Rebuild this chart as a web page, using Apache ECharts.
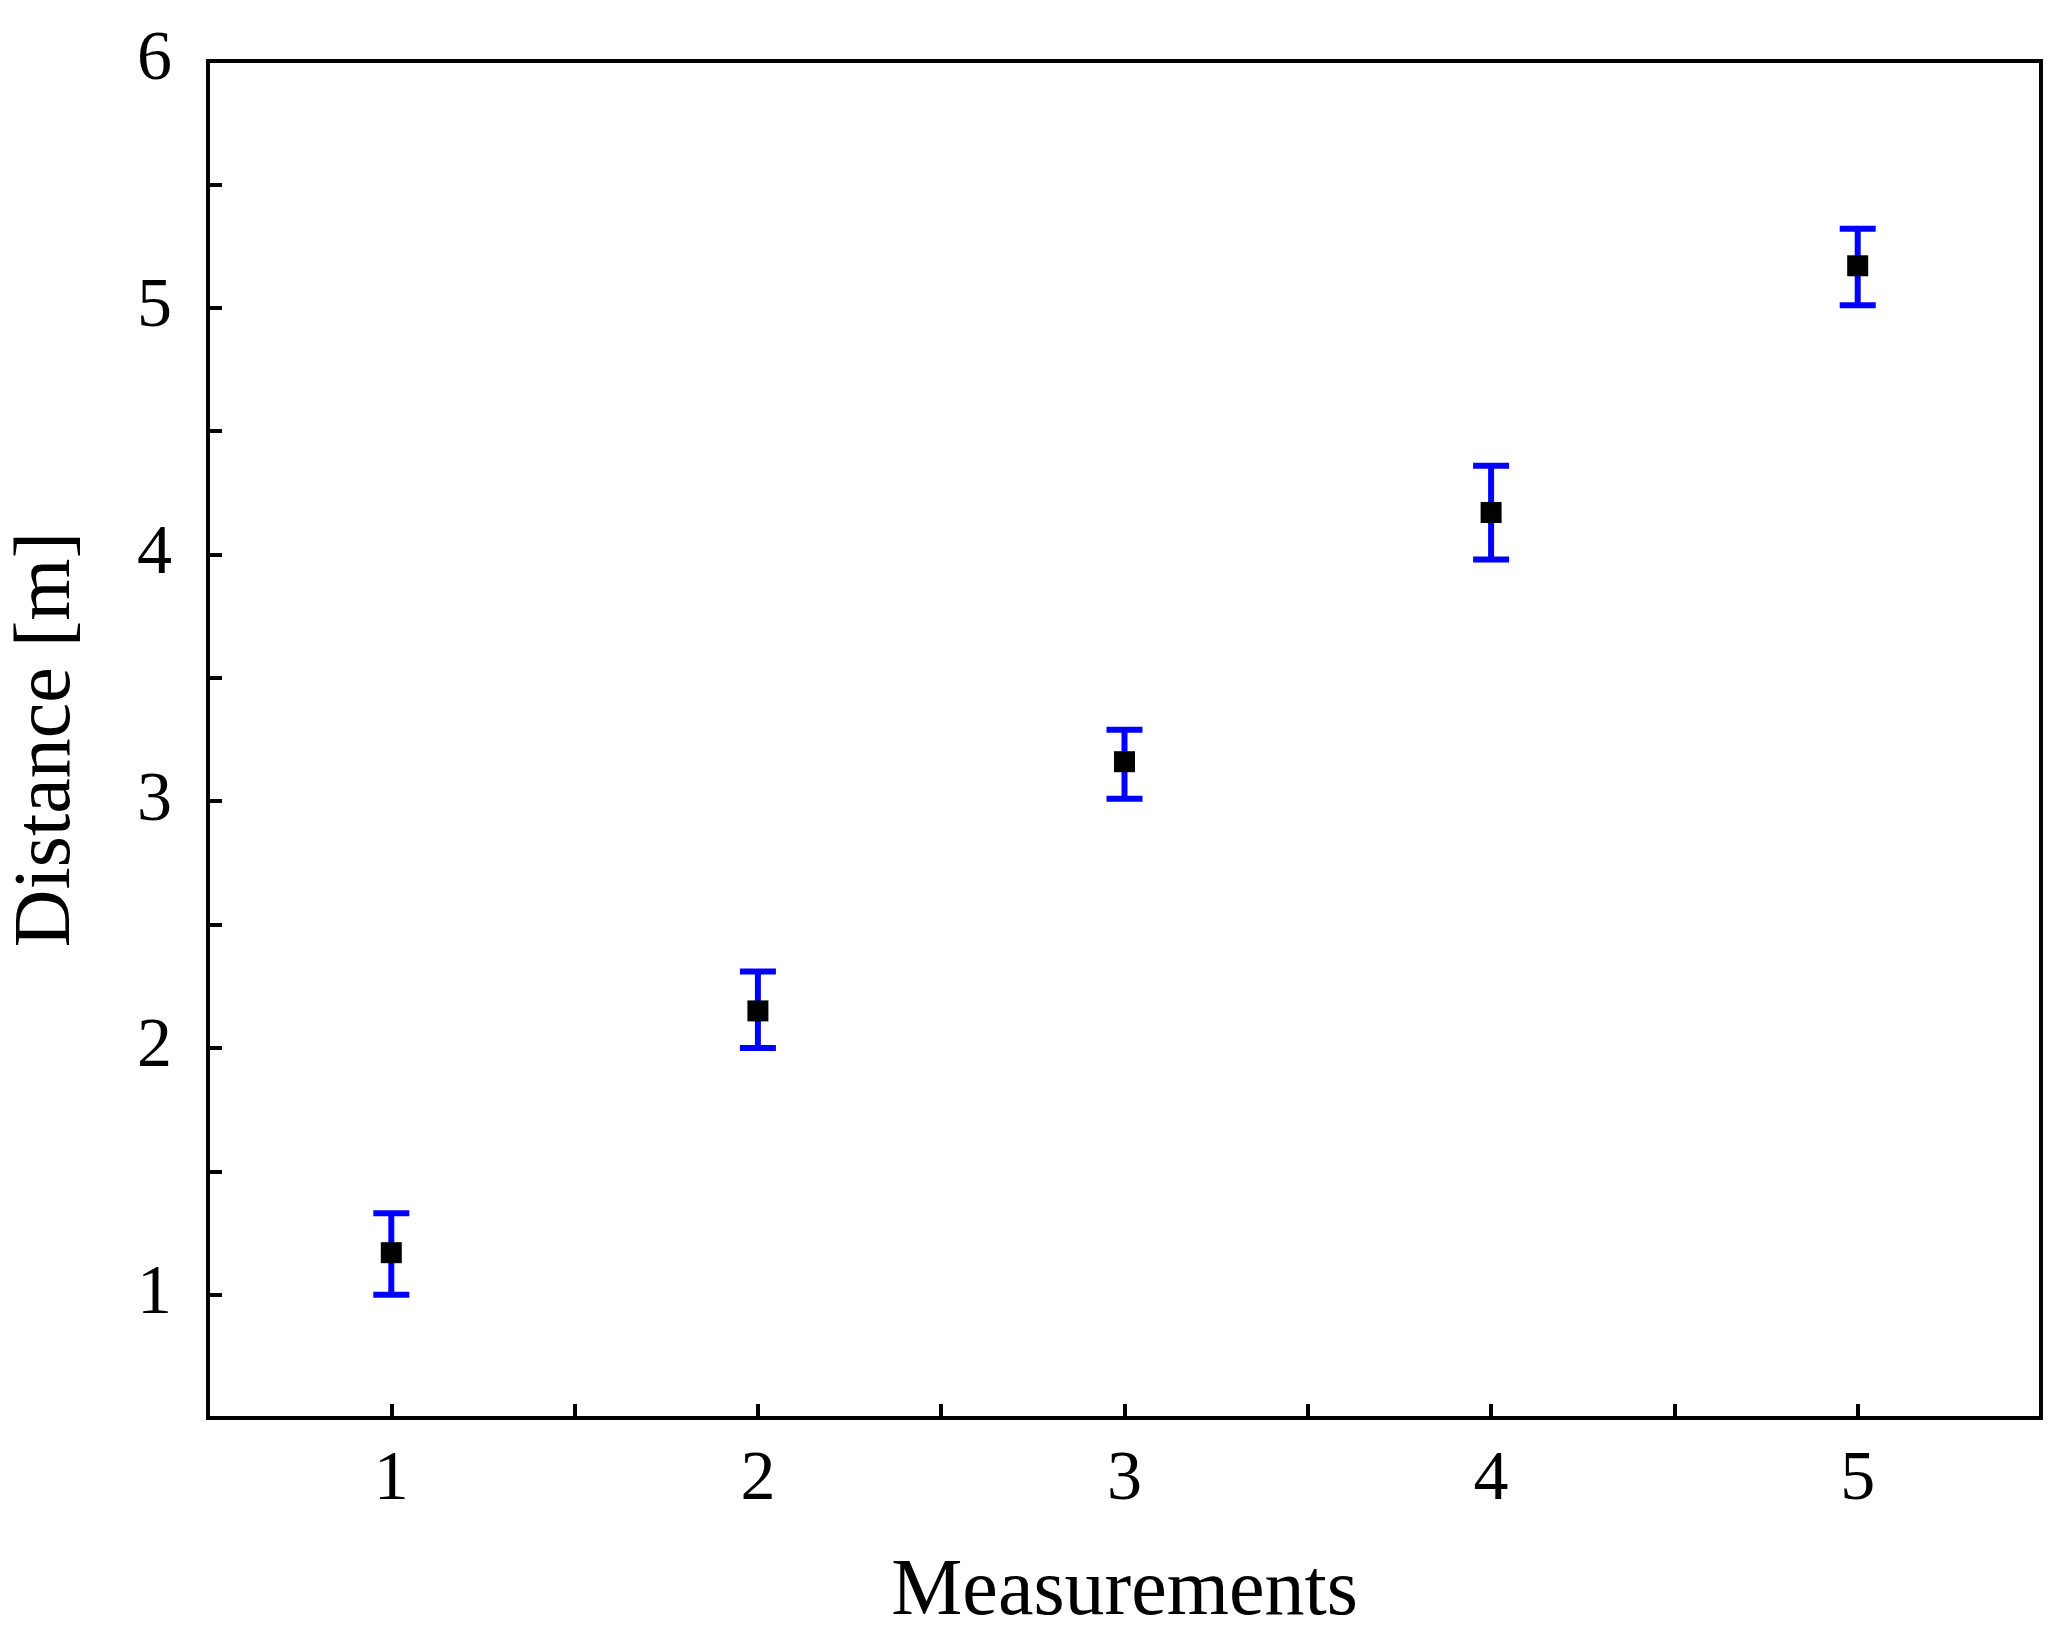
<!DOCTYPE html>
<html>
<head>
<meta charset="utf-8">
<script src="https://cdn.jsdelivr.net/npm/echarts@6/dist/echarts.min.js"></script>
<style>html,body{margin:0;background:#fff}#chart{width:2067px;height:1638px}</style>
</head>
<body>
<div id="chart"></div>
<script>
// measurement data
const measurements = [1, 2, 3, 4, 5]
const distance = [1.17, 2.15, 3.16, 4.17, 5.17]
const errLow = [1.0, 2.0, 3.01, 3.98, 5.01]
const errHigh = [1.33, 2.31, 3.29, 4.36, 5.32]

const font = 'Liberation Serif'
let chart = echarts.init(document.getElementById('chart'))

let errData = measurements.map((m, i) => [m, errLow[i], errHigh[i]])

let axisCommon = {
    axisLine: { onZero: false, lineStyle: { color: '#000', width: 4 } },
    axisTick: { inside: true, length: 14, lineStyle: { color: '#000', width: 4 } },
    splitLine: { show: false },
    axisLabel: { fontFamily: font, fontSize: 70, color: '#000', formatter: v => Number.isInteger(v) ? String(v) : '' },
    nameTextStyle: { fontFamily: font, fontSize: 80, color: '#000' }
}

chart.setOption({
    animation: false,
    grid: { left: 178, top: 61, right: 26, bottom: 205, show: true, borderColor: '#000', borderWidth: 4 },
    xAxis: Object.assign({}, axisCommon, {
        type: 'value', min: 0.5, max: 5.5, interval: 0.5,
        name: 'Measurements', nameLocation: 'middle', nameGap: 135,
        axisLabel: Object.assign({}, axisCommon.axisLabel, { margin: 28 })
    }),
    yAxis: Object.assign({}, axisCommon, {
        type: 'value', min: 0.5, max: 6, interval: 0.5,
        name: 'Distance [m]', nameLocation: 'middle', nameGap: 120,
        axisLabel: Object.assign({}, axisCommon.axisLabel, { margin: 36 })
    }),
    series: [
        {
            type: 'custom',
            data: errData,
            renderItem(params, api) {
                let x = api.value(0)
                let lo = api.coord([x, api.value(1)])
                let hi = api.coord([x, api.value(2)])
                let cap = 18
                let style = { stroke: '#0000ff', lineWidth: 6 }
                return {
                    type: 'group',
                    children: [
                        { type: 'line', shape: { x1: lo[0], y1: lo[1], x2: hi[0], y2: hi[1] }, style },
                        { type: 'line', shape: { x1: lo[0] - cap, y1: lo[1], x2: lo[0] + cap, y2: lo[1] }, style },
                        { type: 'line', shape: { x1: hi[0] - cap, y1: hi[1], x2: hi[0] + cap, y2: hi[1] }, style }
                    ]
                }
            }
        },
        {
            type: 'scatter',
            symbol: 'rect',
            symbolSize: 21,
            itemStyle: { color: '#000', opacity: 1 },
            data: measurements.map((m, i) => [m, distance[i]]),
            z: 5
        }
    ]
})
</script>
</body>
</html>
